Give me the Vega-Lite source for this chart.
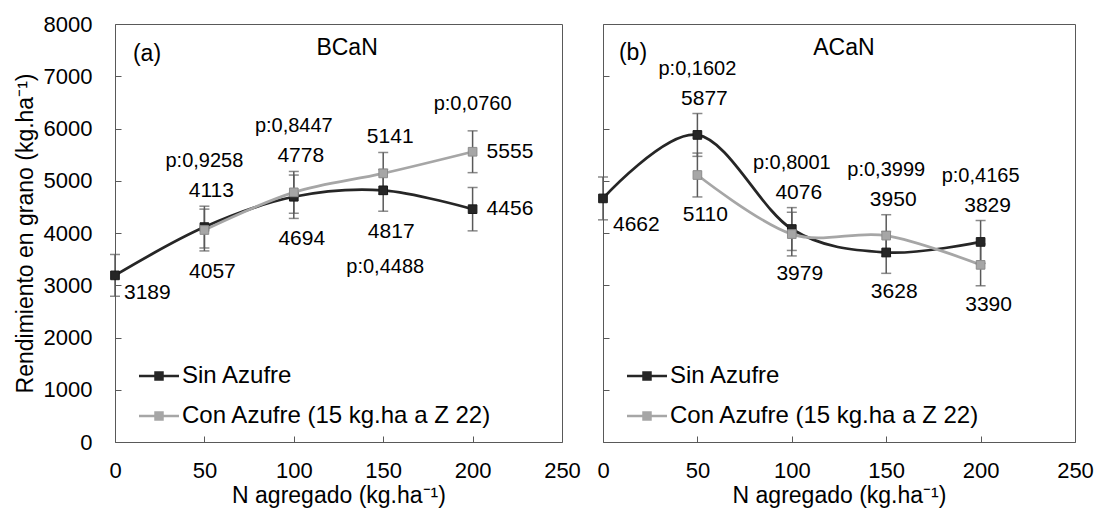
{
  "$schema": "https://vega.github.io/schema/vega-lite/v6.json",
  "padding": {"left": 13, "top": 12, "right": 5, "bottom": 1},
  "background": "white",
  "config": {
    "font": "Liberation Sans",
    "view": {"stroke": "#595959", "strokeWidth": 1},
    "axis": {"grid": false, "domain": false, "tickColor": "#595959", "tickSize": -6, "tickWidth": 1, "labelColor": "#000000", "titleColor": "#000000", "labelFont": "Liberation Sans", "titleFont": "Liberation Sans", "labelFontSize": 22, "titleFontSize": 23, "titleFontWeight": "normal"},
    "text": {"font": "Liberation Sans", "color": "#000000"}
  },
  "datasets": {
    "pts": [
      {"panel": "a", "serie": "Sin Azufre", "N": 0, "y": 3189, "err": 400, "p": null},
      {"panel": "a", "serie": "Sin Azufre", "N": 50, "y": 4113, "err": 400, "p": "p:0,9258"},
      {"panel": "a", "serie": "Sin Azufre", "N": 100, "y": 4694, "err": 415, "p": null},
      {"panel": "a", "serie": "Sin Azufre", "N": 150, "y": 4817, "err": 400, "p": "p:0,4488"},
      {"panel": "a", "serie": "Sin Azufre", "N": 200, "y": 4456, "err": 415, "p": null},
      {"panel": "a", "serie": "Con Azufre (15 kg.ha a Z 22)", "N": 50, "y": 4057, "err": 400, "p": null},
      {"panel": "a", "serie": "Con Azufre (15 kg.ha a Z 22)", "N": 100, "y": 4778, "err": 400, "p": "p:0,8447"},
      {"panel": "a", "serie": "Con Azufre (15 kg.ha a Z 22)", "N": 150, "y": 5141, "err": 400, "p": null},
      {"panel": "a", "serie": "Con Azufre (15 kg.ha a Z 22)", "N": 200, "y": 5555, "err": 400, "p": "p:0,0760"},
      {"panel": "b", "serie": "Sin Azufre", "N": 0, "y": 4662, "err": 410, "p": null},
      {"panel": "b", "serie": "Sin Azufre", "N": 50, "y": 5877, "err": 410, "p": "p:0,1602"},
      {"panel": "b", "serie": "Sin Azufre", "N": 100, "y": 4076, "err": 410, "p": "p:0,8001"},
      {"panel": "b", "serie": "Sin Azufre", "N": 150, "y": 3628, "err": 400, "p": null},
      {"panel": "b", "serie": "Sin Azufre", "N": 200, "y": 3829, "err": 410, "p": "p:0,4165"},
      {"panel": "b", "serie": "Con Azufre (15 kg.ha a Z 22)", "N": 50, "y": 5110, "err": 420, "p": null},
      {"panel": "b", "serie": "Con Azufre (15 kg.ha a Z 22)", "N": 100, "y": 3979, "err": 418, "p": null},
      {"panel": "b", "serie": "Con Azufre (15 kg.ha a Z 22)", "N": 150, "y": 3950, "err": 400, "p": "p:0,3999"},
      {"panel": "b", "serie": "Con Azufre (15 kg.ha a Z 22)", "N": 200, "y": 3390, "err": 400, "p": null}
    ]
  },
  "spacing": 41,
  "bounds": "flush",
  "resolve": {"scale": {"color": "independent", "fill": "independent", "stroke": "independent"}, "legend": {"color": "independent"}},
  "hconcat": [
    {
      "width": 447,
      "height": 418,
      "data": {"name": "pts"},
      "transform": [{"filter": "datum.panel === 'a'"}],
      "encoding": {
        "x": {"field": "N", "type": "quantitative", "scale": {"domain": [0, 250], "nice": false, "zero": false},
              "axis": {"values": [0, 50, 100, 150, 200, 250], "title": "N agregado (kg.ha⁻¹)", "labelPadding": 24, "titlePadding": 3, "labelFlush": false, "labelOverlap": false}},
        "y": {"field": "y", "type": "quantitative", "scale": {"domain": [0, 8000], "nice": false},
              "axis": {"values": [0, 1000, 2000, 3000, 4000, 5000, 6000, 7000, 8000], "format": "d", "title": "Rendimiento en grano (kg.ha⁻¹)", "labelPadding": 29, "titlePadding": 6, "labelFlush": false, "labelOverlap": false}}
      },
      "layer": [
        {
          "mark": {"type": "line", "interpolate": "cardinal", "strokeWidth": 2.75},
          "encoding": {
            "color": {"field": "serie", "type": "nominal",
                      "scale": {"domain": ["Sin Azufre", "Con Azufre (15 kg.ha a Z 22)"], "range": ["#262626", "#a6a6a6"]},
                      "legend": {"title": null, "orient": "none", "legendX": 25, "legendY": 333, "symbolType": "M-1.143,0H1.143M-0.2,-0.2H0.2V0.2H-0.2Z", "symbolSize": 1225, "symbolStrokeWidth": 2.5, "labelFontSize": 24, "labelFont": "Liberation Sans", "labelColor": "#000000", "labelOffset": 4, "rowPadding": 9, "padding": 0, "labelLimit": 600,
                                 "encode": {"symbols": {"update": {"fill": {"signal": "datum.value === 'Sin Azufre' ? '#262626' : '#a6a6a6'"}, "stroke": {"signal": "datum.value === 'Sin Azufre' ? '#262626' : '#a6a6a6'"}, "opacity": {"value": 1}}}}}}
          }
        },
        {
          "mark": {"type": "errorbar", "color": "#595959", "thickness": 1.5, "ticks": {"size": 10, "thickness": 1.5, "color": "#595959"}},
          "encoding": {"yError": {"field": "err"}}
        },
        {
          "mark": {"type": "point", "shape": "square", "filled": true, "size": 75, "strokeWidth": 1, "opacity": 1},
          "encoding": {
            "fill": {"field": "serie", "type": "nominal", "scale": {"domain": ["Sin Azufre", "Con Azufre (15 kg.ha a Z 22)"], "range": ["#262626", "#a6a6a6"]}, "legend": null},
            "stroke": {"field": "serie", "type": "nominal", "scale": {"domain": ["Sin Azufre", "Con Azufre (15 kg.ha a Z 22)"], "range": ["#1a1a1a", "#8c8c8c"]}, "legend": null}
          }
        },
        {
          "transform": [{"filter": "(datum.N === 50 && datum.serie === 'Sin Azufre') || (datum.serie !== 'Sin Azufre' && (datum.N === 100 || datum.N === 150))"}],
          "mark": {"type": "text", "fontSize": 21, "baseline": "middle", "align": "center", "dx": 7, "dy": -36},
          "encoding": {"text": {"field": "y", "type": "quantitative", "format": "d"}}
        },
        {
          "transform": [{"filter": "(datum.N === 50 && datum.serie !== 'Sin Azufre') || (datum.serie === 'Sin Azufre' && (datum.N === 100 || datum.N === 150))"}],
          "mark": {"type": "text", "fontSize": 21, "baseline": "middle", "align": "center", "dx": 8, "dy": 42},
          "encoding": {"text": {"field": "y", "type": "quantitative", "format": "d"}}
        },
        {
          "transform": [{"filter": "datum.N === 200"}],
          "mark": {"type": "text", "fontSize": 21, "baseline": "middle", "align": "left", "dx": 14, "dy": 0},
          "encoding": {"text": {"field": "y", "type": "quantitative", "format": "d"}}
        },
        {
          "transform": [{"filter": "datum.N === 0"}],
          "mark": {"type": "text", "fontSize": 21, "baseline": "middle", "align": "left", "dx": 9, "dy": 18},
          "encoding": {"text": {"field": "y", "type": "quantitative", "format": "d"}}
        },
        {
          "transform": [{"filter": "datum.p && datum.N <= 100"}],
          "mark": {"type": "text", "fontSize": 20, "baseline": "middle", "align": "center", "dx": 0, "dy": -66},
          "encoding": {"text": {"field": "p", "type": "nominal"}}
        },
        {
          "transform": [{"filter": "datum.p && datum.N === 200"}],
          "mark": {"type": "text", "fontSize": 20, "baseline": "middle", "align": "center", "dx": 0, "dy": -48},
          "encoding": {"text": {"field": "p", "type": "nominal"}}
        },
        {
          "transform": [{"filter": "datum.p && datum.N === 150"}],
          "mark": {"type": "text", "fontSize": 20, "baseline": "middle", "align": "center", "dx": 2, "dy": 77},
          "encoding": {"text": {"field": "p", "type": "nominal"}}
        },
        {
          "transform": [{"filter": "datum.N === 0 && datum.serie === 'Sin Azufre'"}],
          "mark": {"type": "text", "fontSize": 23, "baseline": "middle", "align": "center", "text": "(a)"},
          "encoding": {"x": {"datum": 17.9}, "y": {"datum": 7426}}
        },
        {
          "transform": [{"filter": "datum.N === 0 && datum.serie === 'Sin Azufre'"}],
          "mark": {"type": "text", "fontSize": 23, "baseline": "middle", "align": "center", "text": "BCaN"},
          "encoding": {"x": {"datum": 129.8}, "y": {"datum": 7546}}
        }
      ]
    },
    {
      "width": 472,
      "height": 418,
      "data": {"name": "pts"},
      "transform": [{"filter": "datum.panel === 'b'"}],
      "encoding": {
        "x": {"field": "N", "type": "quantitative", "scale": {"domain": [0, 250], "nice": false, "zero": false},
              "axis": {"values": [0, 50, 100, 150, 200, 250], "title": "N agregado (kg.ha⁻¹)", "labelPadding": 24, "titlePadding": 3, "labelFlush": false, "labelOverlap": false}},
        "y": {"field": "y", "type": "quantitative", "scale": {"domain": [0, 8000], "nice": false},
              "axis": {"values": [0, 1000, 2000, 3000, 4000, 5000, 6000, 7000, 8000], "labels": false, "title": null}}
      },
      "layer": [
        {
          "mark": {"type": "line", "interpolate": "cardinal", "strokeWidth": 2.75},
          "encoding": {
            "color": {"field": "serie", "type": "nominal",
                      "scale": {"domain": ["Sin Azufre", "Con Azufre (15 kg.ha a Z 22)"], "range": ["#262626", "#a6a6a6"]},
                      "legend": {"title": null, "orient": "none", "legendX": 25, "legendY": 333, "symbolType": "M-1.143,0H1.143M-0.2,-0.2H0.2V0.2H-0.2Z", "symbolSize": 1225, "symbolStrokeWidth": 2.5, "labelFontSize": 24, "labelFont": "Liberation Sans", "labelColor": "#000000", "labelOffset": 4, "rowPadding": 9, "padding": 0, "labelLimit": 600,
                                 "encode": {"symbols": {"update": {"fill": {"signal": "datum.value === 'Sin Azufre' ? '#262626' : '#a6a6a6'"}, "stroke": {"signal": "datum.value === 'Sin Azufre' ? '#262626' : '#a6a6a6'"}, "opacity": {"value": 1}}}}}}
          }
        },
        {
          "mark": {"type": "errorbar", "color": "#595959", "thickness": 1.5, "ticks": {"size": 10, "thickness": 1.5, "color": "#595959"}},
          "encoding": {"yError": {"field": "err"}}
        },
        {
          "mark": {"type": "point", "shape": "square", "filled": true, "size": 75, "strokeWidth": 1, "opacity": 1},
          "encoding": {
            "fill": {"field": "serie", "type": "nominal", "scale": {"domain": ["Sin Azufre", "Con Azufre (15 kg.ha a Z 22)"], "range": ["#262626", "#a6a6a6"]}, "legend": null},
            "stroke": {"field": "serie", "type": "nominal", "scale": {"domain": ["Sin Azufre", "Con Azufre (15 kg.ha a Z 22)"], "range": ["#1a1a1a", "#8c8c8c"]}, "legend": null}
          }
        },
        {
          "transform": [{"filter": "(datum.serie === 'Sin Azufre' && (datum.N === 50 || datum.N === 100 || datum.N === 200)) || (datum.serie !== 'Sin Azufre' && datum.N === 150)"}],
          "mark": {"type": "text", "fontSize": 21, "baseline": "middle", "align": "center", "dx": 7, "dy": -36},
          "encoding": {"text": {"field": "y", "type": "quantitative", "format": "d"}}
        },
        {
          "transform": [{"filter": "(datum.serie !== 'Sin Azufre' && datum.N !== 150) || (datum.serie === 'Sin Azufre' && datum.N === 150)"}],
          "mark": {"type": "text", "fontSize": 21, "baseline": "middle", "align": "center", "dx": 8, "dy": 40},
          "encoding": {"text": {"field": "y", "type": "quantitative", "format": "d"}}
        },
        {
          "transform": [{"filter": "datum.N === 0"}],
          "mark": {"type": "text", "fontSize": 21, "baseline": "middle", "align": "left", "dx": 10, "dy": 27},
          "encoding": {"text": {"field": "y", "type": "quantitative", "format": "d"}}
        },
        {
          "transform": [{"filter": "datum.p"}],
          "mark": {"type": "text", "fontSize": 20, "baseline": "middle", "align": "center", "dx": 0, "dy": -66},
          "encoding": {"text": {"field": "p", "type": "nominal"}}
        },
        {
          "transform": [{"filter": "datum.N === 0 && datum.serie === 'Sin Azufre'"}],
          "mark": {"type": "text", "fontSize": 23, "baseline": "middle", "align": "center", "text": "(b)"},
          "encoding": {"x": {"datum": 15.9}, "y": {"datum": 7440}}
        },
        {
          "transform": [{"filter": "datum.N === 0 && datum.serie === 'Sin Azufre'"}],
          "mark": {"type": "text", "fontSize": 23, "baseline": "middle", "align": "center", "text": "ACaN"},
          "encoding": {"x": {"datum": 127.6}, "y": {"datum": 7540}}
        }
      ]
    }
  ]
}
